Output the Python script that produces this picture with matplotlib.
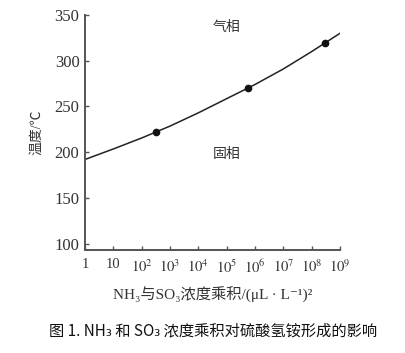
import matplotlib
matplotlib.use("Agg")
from matplotlib import pyplot as plt
import numpy as np

plt.rcParams['font.family'] = ['Liberation Serif', 'Noto Sans CJK SC', 'DejaVu Sans']
plt.rcParams['mathtext.fontset'] = 'stix'

# 曲线 (decade of concentration product, temperature)
curve_decade = [0, 1, 2, 3, 4, 5, 6, 7, 8, 9]
curve_temp = [192, 203.5, 215.5, 228.5, 243, 258.5, 274, 291, 310, 330]

# 实验点
point_decade = [2.5, 5.74, 8.47]
point_temp = [222, 270, 319]

xtick_decades = list(range(10))
xtick_labels = ['1', '10'] + ['$10^{%d}$' % i for i in range(2, 10)]
ytick_values = [100, 150, 200, 250, 300, 350]

fig = plt.figure(figsize=(4.05, 3.53), dpi=100)
ax = fig.add_axes([85 / 405, 103 / 353, 255 / 405, 235 / 353])

ax.plot(np.power(10.0, curve_decade), curve_temp, color='#222222', lw=1.1)
ax.plot(np.power(10.0, point_decade), point_temp, 'o', color='#111111', ms=4.5)

ax.set_xscale('log')
ax.set_xlim(1, 1e9)
ax.set_ylim(93, 350)
ax.set_xticks(np.power(10.0, xtick_decades))
ax.set_xticklabels(xtick_labels)
ax.minorticks_off()
ax.set_yticks(ytick_values)

for s in ['top', 'right']:
    ax.spines[s].set_visible(False)
for s in ['left', 'bottom']:
    ax.spines[s].set_color('#555555')
    ax.spines[s].set_linewidth(1.4)
ax.tick_params(direction='in', length=3, width=1, colors='#555555',
               labelcolor='#333333', labelsize=10.5, pad=6)
ax.tick_params(axis='y', labelsize=12, pad=4)

ax.text(1e5, 336, '气相', fontsize=10, color='#333333', ha='center', va='center')
ax.text(1e5, 198, '固相', fontsize=10, color='#333333', ha='center', va='center')

ax.set_ylabel('温度/℃', fontsize=10, color='#333333', labelpad=8)
ax.set_xlabel('NH₃与SO₃浓度乘积/(μL · L⁻¹)²', fontsize=11,
              color='#333333', labelpad=8)

fig.text(213 / 405, 1 - 331 / 353, '图 1. NH₃ 和 SO₃ 浓度乘积对硫酸氢铵形成的影响',
         family=['Noto Sans CJK SC', 'DejaVu Sans'], fontsize=11,
         color='#111111', ha='center', va='center')

plt.savefig('out.png', dpi=100)
